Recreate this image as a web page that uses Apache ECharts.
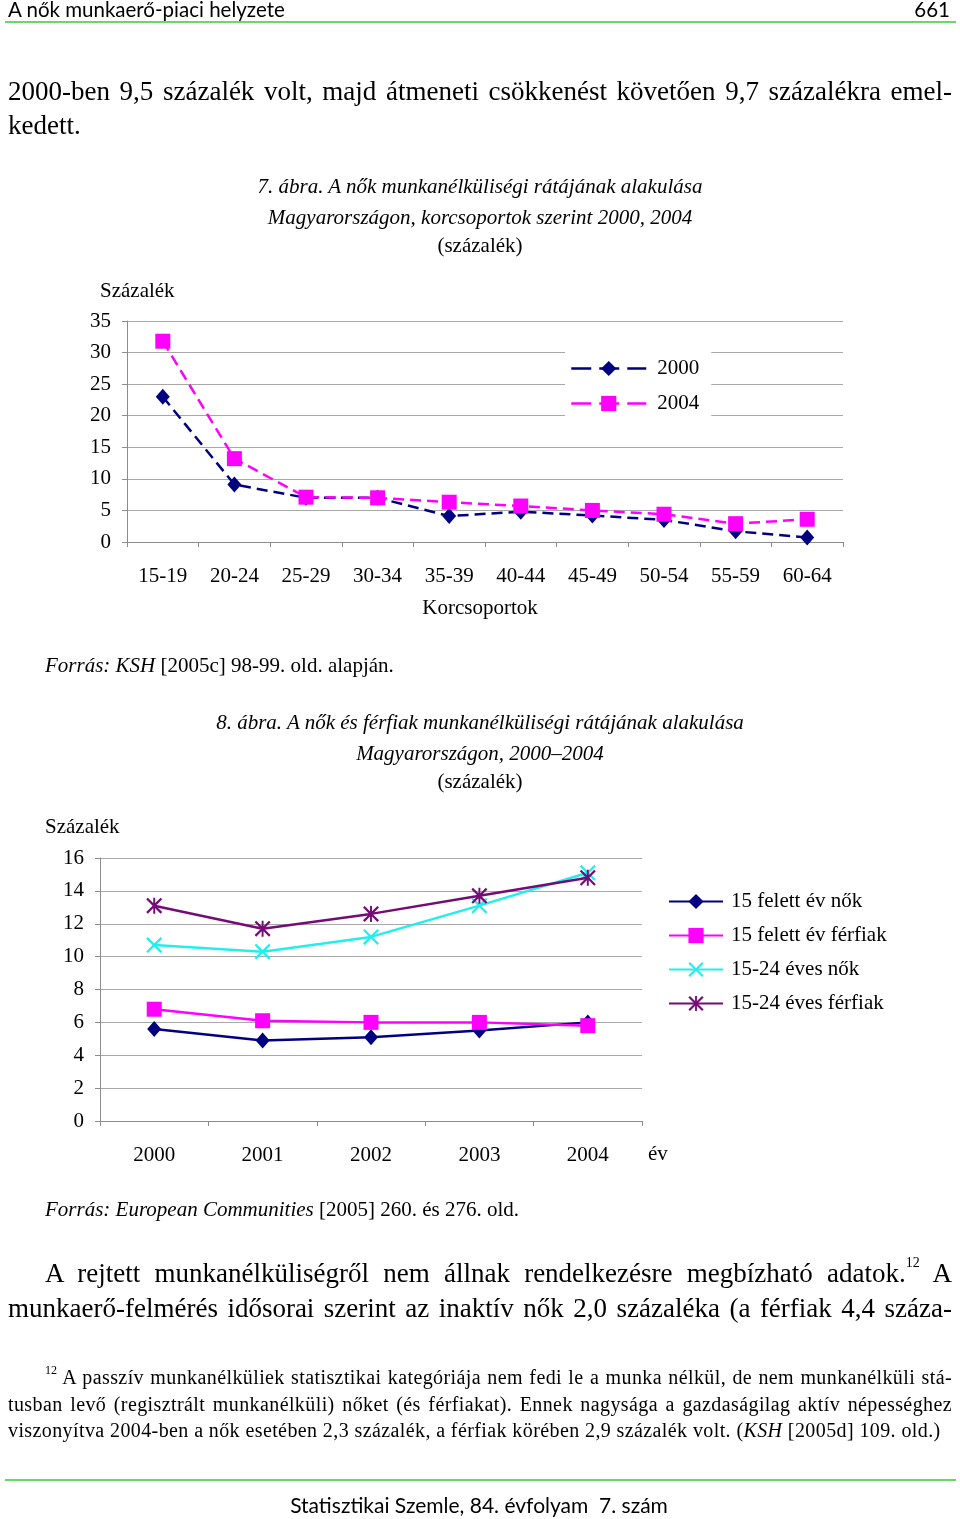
<!DOCTYPE html>
<html><head><meta charset="utf-8">
<script src="https://cdn.jsdelivr.net/npm/echarts@6/dist/echarts.min.js"></script>
<style>
html,body{margin:0;padding:0;background:#fff;}
#page{position:relative;width:960px;height:1519px;overflow:hidden;background:#fff;}
#chart{position:absolute;left:0;top:0;width:960px;height:1519px;}
.t{position:absolute;white-space:nowrap;font-family:"Liberation Serif","Times New Roman",serif;color:#000;line-height:1;}
.j{white-space:normal;text-align:justify;text-align-last:justify;}
.c{text-align:center;}
.i{font-style:italic;}
.hd{font-family:"Lato","Open Sans","DejaVu Sans",sans-serif;font-weight:400;color:#000;}
.fn{font-size:20px;letter-spacing:0.4px;}
.rule{position:absolute;left:5px;width:951px;height:2px;background:#66d966;}
sup{font-size:14px;vertical-align:top;position:relative;top:-4px;letter-spacing:0;}
</style>
</head><body>
<div id="page">
<div id="chart"></div>

<div class="t hd" style="left:8px;top:-1px;font-size:20.5px;">A nők munkaerő-piaci helyzete</div>
<div class="t hd" style="right:10px;top:-1px;font-size:20.5px;">661</div>
<div class="rule" style="top:21px;"></div>

<div class="t j" style="left:8px;width:944px;top:78px;font-size:27px;">2000-ben 9,5 százalék volt, majd átmeneti csökkenést követően 9,7 százalékra emel-</div>
<div class="t" style="left:8px;top:112px;font-size:27px;">kedett.</div>

<div class="t c i" style="left:0;width:960px;top:176px;font-size:21px;">7. ábra. A nők munkanélküliségi rátájának alakulása</div>
<div class="t c i" style="left:0;width:960px;top:207px;font-size:21px;">Magyarországon, korcsoportok szerint 2000, 2004</div>
<div class="t c" style="left:0;width:960px;top:235px;font-size:21px;">(százalék)</div>
<div class="t" style="left:100px;top:280px;font-size:21px;">Százalék</div>
<div class="t c" style="left:0;width:960px;top:597px;font-size:21px;">Korcsoportok</div>
<div class="t" style="left:45px;top:655px;font-size:21px;"><span class="i">Forrás: KSH</span> [2005c] 98-99. old. alapján.</div>

<div class="t c i" style="left:0;width:960px;top:712px;font-size:21px;">8. ábra. A nők és férfiak munkanélküliségi rátájának alakulása</div>
<div class="t c i" style="left:0;width:960px;top:743px;font-size:21px;">Magyarországon, 2000–2004</div>
<div class="t c" style="left:0;width:960px;top:771px;font-size:21px;">(százalék)</div>
<div class="t" style="left:45px;top:816px;font-size:21px;">Százalék</div>
<div class="t" style="left:648px;top:1143px;font-size:21px;">év</div>
<div class="t" style="left:45px;top:1199px;font-size:21px;"><span class="i">Forrás: European Communities</span> [2005] 260. és 276. old.</div>

<div class="t j" style="left:45px;width:907px;top:1260px;font-size:27px;">A rejtett munkanélküliségről nem állnak rendelkezésre megbízható adatok.<sup>12</sup> A</div>
<div class="t j" style="left:8px;width:944px;top:1295px;font-size:27px;">munkaerő-felmérés idősorai szerint az inaktív nők 2,0 százaléka (a férfiak 4,4 száza-</div>

<div class="t j fn" style="left:45px;width:907px;top:1367px;"><sup style="font-size:12px;top:-3px;">12</sup> A passzív munkanélküliek statisztikai kategóriája nem fedi le a munka nélkül, de nem munkanélküli stá-</div>
<div class="t j fn" style="left:8px;width:944px;top:1394px;">tusban levő (regisztrált munkanélküli) nőket (és férfiakat). Ennek nagysága a gazdaságilag aktív népességhez</div>
<div class="t fn" style="left:8px;top:1420px;">viszonyítva 2004-ben a nők esetében 2,3 százalék, a férfiak körében 2,9 százalék volt. (<span class="i">KSH</span> [2005d] 109. old.)</div>

<div class="rule" style="top:1479px;"></div>
<div class="t c hd" style="left:0;width:958px;top:1494px;font-size:21px;">Statisztikai Szemle, 84. évfolyam&nbsp; 7. szám</div>
</div>

<script>
// ---- data ----
var ageGroups = ['15-19','20-24','25-29','30-34','35-39','40-44','45-49','50-54','55-59','60-64'];
var rate2000 = [23.0, 9.1, 7.0, 7.0, 4.1, 4.8, 4.2, 3.5, 1.7, 0.7];
var rate2004 = [31.8, 13.2, 7.1, 7.0, 6.3, 5.7, 5.0, 4.4, 2.9, 3.6];
var chart1Series = ['2000', '2004'];

var years = ['2000','2001','2002','2003','2004'];
var women15plus = [5.6, 4.9, 5.1, 5.5, 6.0];
var men15plus = [6.8, 6.1, 6.0, 6.0, 5.8];
var women1524 = [10.7, 10.3, 11.2, 13.1, 15.1];
var men1524 = [13.1, 11.7, 12.6, 13.7, 14.8];
var chart2Series = ['15 felett év nők', '15 felett év férfiak', '15-24 éves nők', '15-24 éves férfiak'];

// ---- styles ----
var SERIF = '"Liberation Serif","Times New Roman",serif';
var NAVY = '#000080', MAGENTA = '#ff00ff', CYAN = '#22eeee', PURPLE = '#760a76';
var AXIS = '#8c8c8c', GRIDC = '#a8a8a8';
var X_SYM = 'path://M0,1L1,0L5,4L9,0L10,1L6,5L10,9L9,10L5,6L1,10L0,9L4,5Z';
var STAR_SYM = 'path://M0,1L1,0L5,4L9,0L10,1L6,5L10,9L9,10L5,6L1,10L0,9L4,5ZM4.4,0L5.6,0L5.6,10L4.4,10Z';

function catAxis(gi, data, margin) {
  return {
    type: 'category', gridIndex: gi, data: data, boundaryGap: true,
    axisLine: {show: true, lineStyle: {color: AXIS, width: 1}},
    axisTick: {show: true, length: 5, lineStyle: {color: AXIS}},
    axisLabel: {interval: 0, margin: margin, fontFamily: SERIF, fontSize: 21, color: '#000'},
    splitLine: {show: false}
  };
}
function valAxis(gi, max, interval) {
  return {
    type: 'value', gridIndex: gi, min: 0, max: max, interval: interval,
    axisLine: {show: true, lineStyle: {color: AXIS, width: 1}},
    axisTick: {show: true, length: 5, lineStyle: {color: AXIS}},
    axisLabel: {margin: 16, fontFamily: SERIF, fontSize: 21, color: '#000'},
    splitLine: {show: true, lineStyle: {color: GRIDC, width: 1}}
  };
}

var chart = echarts.init(document.getElementById('chart'), null, {renderer: 'canvas'});
chart.setOption({
  animation: false,
  backgroundColor: 'transparent',
  grid: [
    {left: 127, top: 321, width: 716, height: 221, containLabel: false},
    {left: 100, top: 858, width: 542, height: 263, containLabel: false}
  ],
  xAxis: [catAxis(0, ageGroups, 24), catAxis(1, years, 24)],
  yAxis: [valAxis(0, 35, 5), valAxis(1, 16, 2)],
  legend: [
    {
      data: chart1Series, orient: 'vertical', left: 565, top: 351,
      padding: [7, 12, 7, 5], itemGap: 14, itemWidth: 75, itemHeight: 19,
      backgroundColor: '#fff',
      lineStyle: {type: [20, 8], width: 2.5},
      textStyle: {fontFamily: SERIF, fontSize: 21, color: '#000', padding: [0, 0, 0, 6]}
    },
    {
      data: chart2Series, orient: 'vertical', left: 668, top: 891,
      padding: 0, itemGap: 13, itemWidth: 54, itemHeight: 19,
      textStyle: {fontFamily: SERIF, fontSize: 21, color: '#000', padding: [0, 0, 0, 3]}
    }
  ],
  series: [
    {
      name: chart1Series[0], type: 'line', xAxisIndex: 0, yAxisIndex: 0, data: rate2000,
      symbol: 'diamond', symbolSize: [14, 16], showAllSymbol: true,
      lineStyle: {color: NAVY, width: 2.5, type: [11, 6]},
      itemStyle: {color: NAVY, borderWidth: 0}, z: 3
    },
    {
      name: chart1Series[1], type: 'line', xAxisIndex: 0, yAxisIndex: 0, data: rate2004,
      symbol: 'rect', symbolSize: 15, showAllSymbol: true,
      lineStyle: {color: MAGENTA, width: 2.5, type: [11, 6]},
      itemStyle: {color: MAGENTA, borderWidth: 0}, z: 4
    },
    {
      name: chart2Series[0], type: 'line', xAxisIndex: 1, yAxisIndex: 1, data: women15plus,
      symbol: 'diamond', symbolSize: [14, 16],
      lineStyle: {color: NAVY, width: 2.5},
      itemStyle: {color: NAVY, borderWidth: 0}, z: 3
    },
    {
      name: chart2Series[1], type: 'line', xAxisIndex: 1, yAxisIndex: 1, data: men15plus,
      symbol: 'rect', symbolSize: 15,
      lineStyle: {color: MAGENTA, width: 2.5},
      itemStyle: {color: MAGENTA, borderWidth: 0}, z: 4
    },
    {
      name: chart2Series[2], type: 'line', xAxisIndex: 1, yAxisIndex: 1, data: women1524,
      symbol: X_SYM, symbolSize: 16,
      lineStyle: {color: CYAN, width: 2.5},
      itemStyle: {color: CYAN, borderWidth: 0}, z: 3
    },
    {
      name: chart2Series[3], type: 'line', xAxisIndex: 1, yAxisIndex: 1, data: men1524,
      symbol: STAR_SYM, symbolSize: 16,
      lineStyle: {color: PURPLE, width: 2.5},
      itemStyle: {color: PURPLE, borderWidth: 0}, z: 4
    }
  ]
});
</script>
</body></html>
